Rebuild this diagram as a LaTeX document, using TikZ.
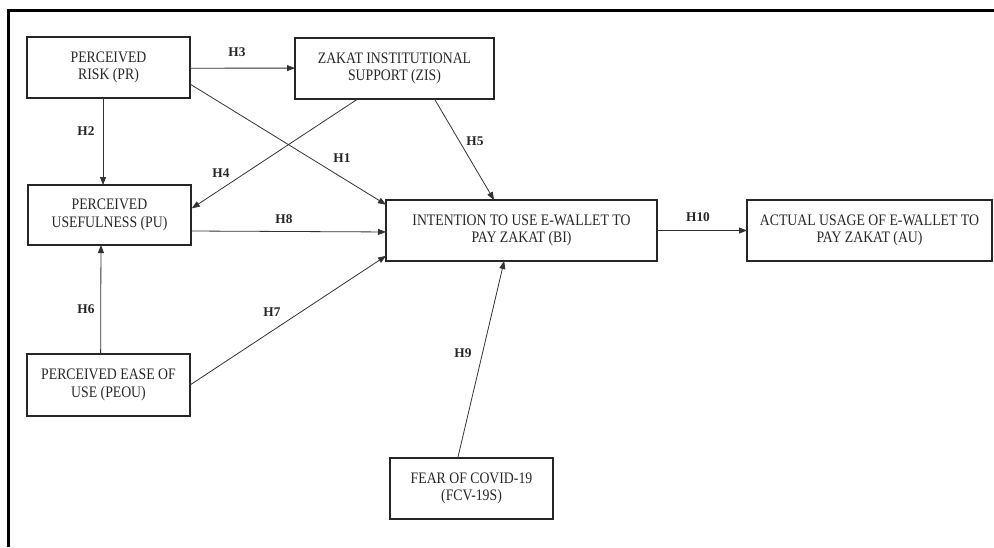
\documentclass[tikz,border=0pt]{standalone}
\usepackage{fontspec}
\setmainfont{Liberation Serif}
\newfontfamily\boxfont{Liberation Serif}[FakeStretch=0.86]
\usetikzlibrary{arrows.meta}
\tikzset{
  box/.style={draw=black!85, line width=1.1pt, inner sep=0pt, outer sep=0pt, align=center,
    font=\boxfont\fontsize{12pt}{13pt}\selectfont, text=black!85},
  arr/.style={draw=black!80, line width=0.6pt, -{Triangle[length=6pt,width=4.5pt]}},
  hlab/.style={font=\fontsize{10pt}{11pt}\selectfont\bfseries, text=black!85, inner sep=0pt},
  frame/.style={draw=black, line width=1.9pt}
}
\begin{document}
\begin{tikzpicture}[x=0.75pt,y=-0.75pt]
\useasboundingbox (0,0) rectangle (994,547);
\coordinate (fbl) at (8.5,547);
\coordinate (ftl) at (8.5,10.5);
\coordinate (ftr) at (994,10.5);
\draw[frame] (fbl) -- (ftl) -- (ftr);

\node[box, minimum width=122.25pt, minimum height=45.75pt] (PR) at (108.5,67.5) {PERCEIVED\\RISK (PR)};
\node[box, minimum width=149.25pt, minimum height=45.75pt] (ZIS) at (394.5,68.5) {ZAKAT INSTITUTIONAL\\SUPPORT (ZIS)};
\node[box, minimum width=122.25pt, minimum height=45pt] (PU) at (109.5,215) {PERCEIVED\\USEFULNESS (PU)};
\node[box, minimum width=203.25pt, minimum height=45.75pt] (BI) at (521.5,230.5) {INTENTION TO USE E-WALLET TO\\PAY ZAKAT (BI)};
\node[box, minimum width=183.75pt, minimum height=45.75pt] (AU) at (869.5,230.5) {ACTUAL USAGE OF E-WALLET TO\\PAY ZAKAT (AU)};
\node[box, minimum width=122.25pt, minimum height=46.5pt] (PEOU) at (108.5,385) {PERCEIVED EASE OF\\USE (PEOU)};
\node[box, minimum width=122.25pt, minimum height=45.75pt] (FCV) at (471.5,488.5) {FEAR OF COVID-19\\(FCV-19S)};

% connectors
\draw[arr] ([yshift=-0.5pt]PR.east) -- ([yshift=0.3pt]ZIS.west);
\draw[arr] ([yshift=-12.4pt]PR.east) -- ([yshift=-3.5pt]BI.north west);
\draw[arr] ([xshift=-4.1pt]PR.south) -- ([xshift=-4.1pt]PR.south |- PU.north);
\draw[arr] ([xshift=-27.6pt]ZIS.south) -- ([xshift=0.6pt,yshift=5pt]PU.east);
\draw[arr] ([xshift=30pt]ZIS.south) -- ([xshift=-20.6pt]BI.north);
\draw[arr] ([yshift=-12pt]PU.east) -- ([yshift=-1.1pt]BI.west);
\draw[arr] (BI.east) -- (AU.west);
\draw[arr] ([xshift=-5.9pt]PEOU.north) -- ([xshift=-6.4pt]PU.south);
\draw[arr] (PEOU.east) -- ([yshift=-19pt]BI.west);
\draw[arr] ([xshift=-10.3pt]FCV.north) -- ([xshift=-13pt]BI.south);

% labels
\node[hlab] (h1) at (342,158) {H1};
\node[hlab] (h2) at (86,131) {H2};
\node[hlab] (h3) at (237,52) {H3};
\node[hlab] (h4) at (221,173) {H4};
\node[hlab] (h5) at (475,141) {H5};
\node[hlab] (h6) at (86,309) {H6};
\node[hlab] (h7) at (272,312) {H7};
\node[hlab] (h8) at (284,219) {H8};
\node[hlab] (h9) at (463,353) {H9};
\node[hlab] (h10) at (698,217) {H10};
\end{tikzpicture}
\end{document}
